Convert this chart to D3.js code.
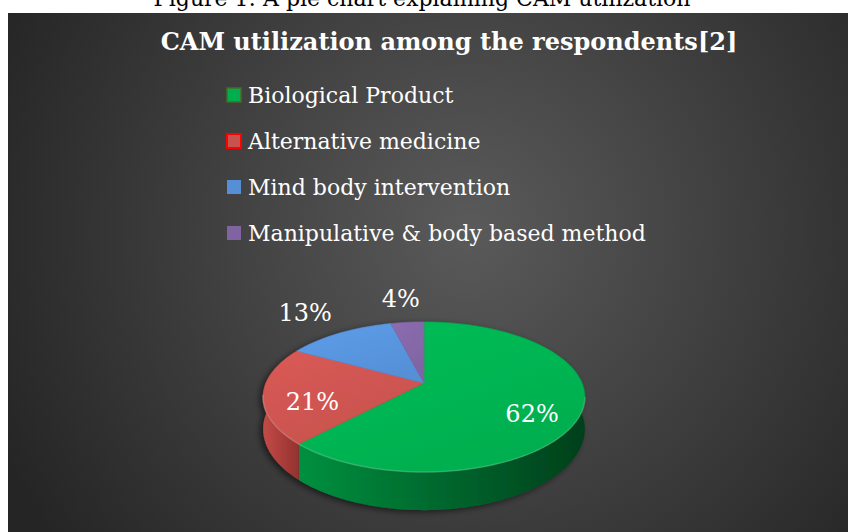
<!DOCTYPE html>
<html>
<head>
<meta charset="utf-8">
<script src="https://cdn.jsdelivr.net/npm/d3@7/dist/d3.min.js"></script>
<style>
  html, body { margin: 0; padding: 0; background: #fff; }
  svg { display: block; }
  .caption { font-family: "DejaVu Serif", serif; font-size: 22px; fill: #000; }
  .title { font-family: "DejaVu Serif", serif; font-size: 24px; font-weight: bold; fill: #fff; }
  .legend-label { font-family: "DejaVu Serif", serif; font-size: 22px; fill: #fff; }
  .pct { font-family: "DejaVu Serif", serif; font-size: 24px; fill: #fff; }
</style>
</head>
<body>
<div class="chart-container"></div>
<script>
// chart data
var categories = ['Biological Product', 'Alternative medicine', 'Mind body intervention', 'Manipulative & body based method'];
var shares = [62, 21, 13, 4];
var topColors = ['#00ae4f', '#c7524e', '#5590d6', '#8064a2'];
var sideLight = ['#00903f', '#c44a46', '#4a7fc0', '#6d5490'];
var sideDark = ['#003f1b', '#93322f', '#35609a', '#503a6e'];
var legendStroke = ['#4b6a26', '#ff0000', 'none', 'none'];

var width = 849;
var height = 532;

// pie geometry (pseudo 3D with a bit of perspective)
var cx = 424, cy = 383;
var rx = 158, ry = 72.4;
var persp = 0.1867;
var depth = 31;

function proj(theta, k, dz) {
  var c = Math.cos(theta), s = Math.sin(theta);
  var f = 1 / (1 + persp * c * k);
  return [cx + rx * s * k * f, cy - ry * c * k * f + (dz || 0) * f];
}

function rimPoints(a0, a1, dz) {
  var pts = [];
  var n = Math.max(2, Math.ceil((a1 - a0) / (Math.PI / 180)));
  for (var i = 0; i <= n; i += 1) {
    pts.push(proj(a0 + (a1 - a0) * i / n, 1, dz));
  }
  return pts;
}

var svg = d3.select('.chart-container').append('svg')
  .attr('width', width)
  .attr('height', height);

var defs = svg.append('defs');

var bg = defs.append('radialGradient')
  .attr('id', 'bg')
  .attr('gradientUnits', 'userSpaceOnUse')
  .attr('cx', 470).attr('cy', 230).attr('r', 520);
bg.append('stop').attr('offset', '0%').attr('stop-color', '#5a5a5a');
bg.append('stop').attr('offset', '100%').attr('stop-color', '#252525');

var shadow = defs.append('filter').attr('id', 'shadow')
  .attr('x', '-20%').attr('y', '-20%').attr('width', '140%').attr('height', '150%');
shadow.append('feDropShadow')
  .attr('dx', -3).attr('dy', 2).attr('stdDeviation', 3)
  .attr('flood-color', '#000').attr('flood-opacity', 0.55);

shares.forEach(function (d, i) {
  var sg = defs.append('linearGradient').attr('id', 'side' + i)
    .attr('x1', '0%').attr('x2', '100%').attr('y1', '0%').attr('y2', '0%');
  sg.append('stop').attr('offset', '0%').attr('stop-color', sideLight[i]);
  sg.append('stop').attr('offset', '100%').attr('stop-color', sideDark[i]);

  var tg = defs.append('linearGradient').attr('id', 'top' + i)
    .attr('x1', '0%').attr('x2', '60%').attr('y1', '0%').attr('y2', '100%');
  tg.append('stop').attr('offset', '0%').attr('stop-color', d3.color(topColors[i]).brighter(0.25));
  tg.append('stop').attr('offset', '100%').attr('stop-color', topColors[i]);
});

// caption above the chart (its top is cropped in the original too)
svg.append('text')
  .attr('class', 'caption')
  .attr('x', 422)
  .attr('y', 6)
  .attr('text-anchor', 'middle')
  .text('Figure 1: A pie chart explaining CAM utilization');

// chart area
svg.append('rect')
  .attr('x', 8).attr('y', 13)
  .attr('width', 840).attr('height', height - 13)
  .attr('fill', 'url(#bg)');

svg.append('text')
  .attr('class', 'title')
  .attr('x', 449)
  .attr('y', 50)
  .attr('text-anchor', 'middle')
  .text('CAM utilization among the respondents[2]');

// legend
var legend = svg.selectAll('.legend')
  .data(categories)
  .enter()
  .append('g')
  .attr('class', 'legend')
  .attr('transform', function (d, i) { return 'translate(227,' + (88 + i * 46) + ')'; });

legend.append('rect')
  .attr('width', 14).attr('height', 14)
  .attr('fill', function (d, i) { return topColors[i]; })
  .attr('stroke', function (d, i) { return legendStroke[i]; })
  .attr('stroke-width', function (d, i) { return i === 1 ? 2 : 1.5; });

legend.append('text')
  .attr('class', 'legend-label')
  .attr('x', 21)
  .attr('y', 15)
  .text(function (d) { return d; });

// pie
var pie = d3.pie().sort(null).startAngle(0).endAngle(2 * Math.PI);
var arcs = pie(shares);
var line = d3.line();

var pieG = svg.append('g').attr('filter', 'url(#shadow)');

// side walls
pieG.selectAll('.side')
  .data(arcs)
  .enter()
  .append('path')
  .attr('class', 'side')
  .attr('fill', function (d, i) { return 'url(#side' + i + ')'; })
  .attr('d', function (d) {
    var top = rimPoints(d.startAngle, d.endAngle, 0);
    var bottom = rimPoints(d.startAngle, d.endAngle, depth).reverse();
    return line(top.concat(bottom)) + 'Z';
  });

// top faces
pieG.selectAll('.top')
  .data(arcs)
  .enter()
  .append('path')
  .attr('class', 'top')
  .attr('fill', function (d, i) { return 'url(#top' + i + ')'; })
  .attr('stroke', function (d, i) { return topColors[i]; })
  .attr('stroke-width', 0.6)
  .attr('d', function (d) {
    return line([[cx, cy]].concat(rimPoints(d.startAngle, d.endAngle, 0))) + 'Z';
  });

// faint highlight along the front edge
pieG.append('path')
  .attr('fill', 'none')
  .attr('stroke', 'rgba(255,255,255,0.18)')
  .attr('stroke-width', 1.5)
  .attr('d', line(rimPoints(Math.PI * 0.56, Math.PI * 1.45, 0)));

// percentage labels
svg.selectAll('.pct')
  .data(arcs)
  .enter()
  .append('text')
  .attr('class', 'pct')
  .attr('text-anchor', 'middle')
  .attr('dominant-baseline', 'central')
  .attr('transform', function (d) {
    var mid = (d.startAngle + d.endAngle) / 2;
    var outside = d.value < 15;
    var p = outside ? proj(mid, 1.5, 0) : proj(mid, 0.7, 11);
    return 'translate(' + p[0] + ',' + p[1] + ')';
  })
  .text(function (d) { return d.value + '%'; });
</script>
</body>
</html>
